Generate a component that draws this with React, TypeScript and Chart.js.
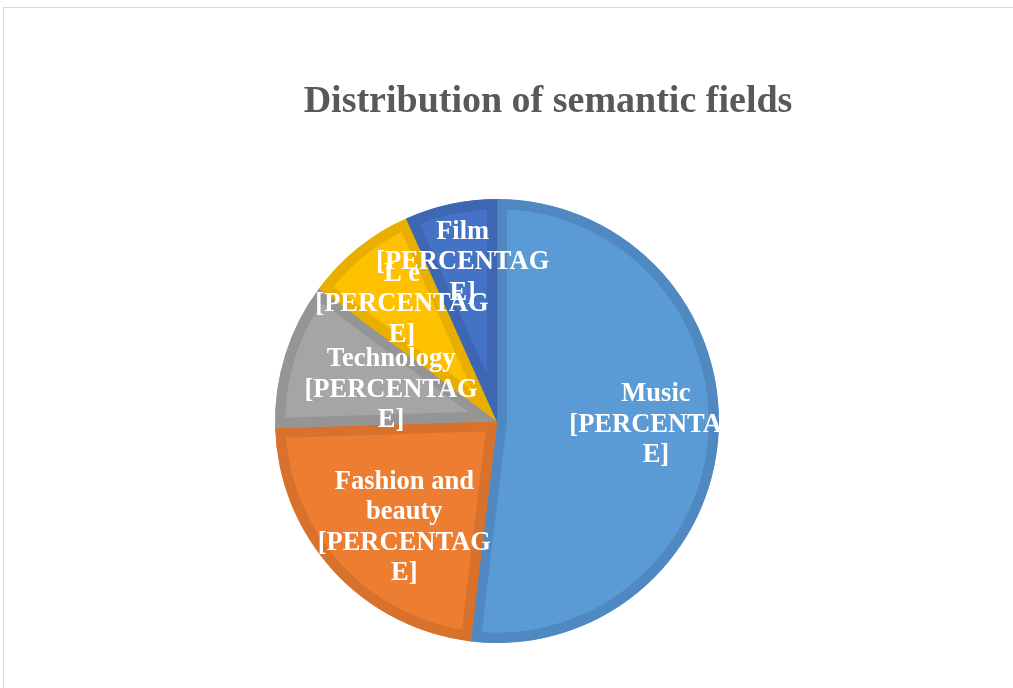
import React, { useEffect, useRef } from "react";
import { Chart, registerables } from "chart.js";

Chart.register(...registerables);

const TITLE = "Distribution of semantic fields";
const categories = ["Music", "Fashion and beauty", "Technology", "L e", "Film"];
const values = [51.9, 22.6, 10.7, 8.1, 6.7];
const labelLines = [
  ["Music", "[PERCENTAG", "E]"],
  ["Fashion and", "beauty", "[PERCENTAG", "E]"],
  ["Technology", "[PERCENTAG", "E]"],
  ["L e", "[PERCENTAG", "E]"],
  ["Film", "[PERCENTAG", "E]"],
];
const fillColors = ["#5B9BD5", "#ED7D31", "#A5A5A5", "#FFC000", "#4472C4"];
const borderColors = ["#5089C2", "#D8712B", "#959595", "#E8AE00", "#3D67B2"];
// label placement: [radius factor, angle shift in degrees]
const LABEL_PLACE: [number, number][] = [
  [0.716, -2.7],
  [0.63, -6],
  [0.5, 0],
  [0.685, 0],
  [0.74, 0],
];

const W = 1013;
const H = 688;

const decorPlugin = {
  id: "decor",
  beforeDraw(chart: any) {
    const ctx = chart.ctx;
    ctx.save();
    ctx.fillStyle = "#ffffff";
    ctx.fillRect(0, 0, chart.width, chart.height);
    ctx.strokeStyle = "#d9d9d9";
    ctx.lineWidth = 1;
    ctx.strokeRect(3.5, 7.5, 3000, 3000);
    ctx.fillStyle = "#595959";
    ctx.font = "bold 38px 'Liberation Serif', 'Times New Roman', serif";
    ctx.textAlign = "center";
    ctx.textBaseline = "middle";
    ctx.fillText(TITLE, 548, 102);
    ctx.restore();
  },
  afterDatasetsDraw(chart: any) {
    const ctx = chart.ctx;
    const meta = chart.getDatasetMeta(0);
    const area = chart.chartArea;
    ctx.save();
    ctx.beginPath();
    ctx.rect(0, 0, area.right, chart.height);
    ctx.clip();
    ctx.fillStyle = "#ffffff";
    ctx.font = "bold 26.5px 'Liberation Serif', 'Times New Roman', serif";
    ctx.textAlign = "center";
    ctx.textBaseline = "middle";
    const lh = 30.5;
    meta.data.forEach((arc: any, i: number) => {
      const p = arc.getProps(["x", "y", "startAngle", "endAngle", "outerRadius"], true);
      const [rf, shift] = LABEL_PLACE[i];
      const mid = (p.startAngle + p.endAngle) / 2 + (shift * Math.PI) / 180;
      const r = p.outerRadius * rf;
      const cx = p.x + Math.cos(mid) * r;
      const cy = p.y + Math.sin(mid) * r + 2;
      const lines = labelLines[i];
      const top = cy - ((lines.length - 1) * lh) / 2;
      lines.forEach((t, k) => ctx.fillText(t, cx, top + k * lh));
    });
    ctx.restore();
  },
};

export default function App() {
  const ref = useRef<HTMLCanvasElement | null>(null);
  useEffect(() => {
    if (!ref.current) return;
    const chart = new Chart(ref.current, {
      type: "pie",
      data: {
        labels: categories,
        datasets: [
          {
            data: values,
            backgroundColor: fillColors,
            borderColor: borderColors,
            borderWidth: 10,
            borderAlign: "inner",
            borderJoinStyle: "miter",
          } as any,
        ],
      },
      options: {
        responsive: false,
        animation: false,
        layout: { padding: { top: 199, bottom: 45, left: 275, right: 294 } },
        plugins: {
          legend: { display: false },
          title: { display: false },
          tooltip: { enabled: false },
        },
      },
      plugins: [decorPlugin],
    });
    return () => chart.destroy();
  }, []);
  return (
    <div style={{ position: "fixed", left: 0, top: 0, width: W, height: H, background: "#fff" }}>
      <canvas ref={ref} width={W} height={H} style={{ display: "block", width: W, height: H }} />
    </div>
  );
}
